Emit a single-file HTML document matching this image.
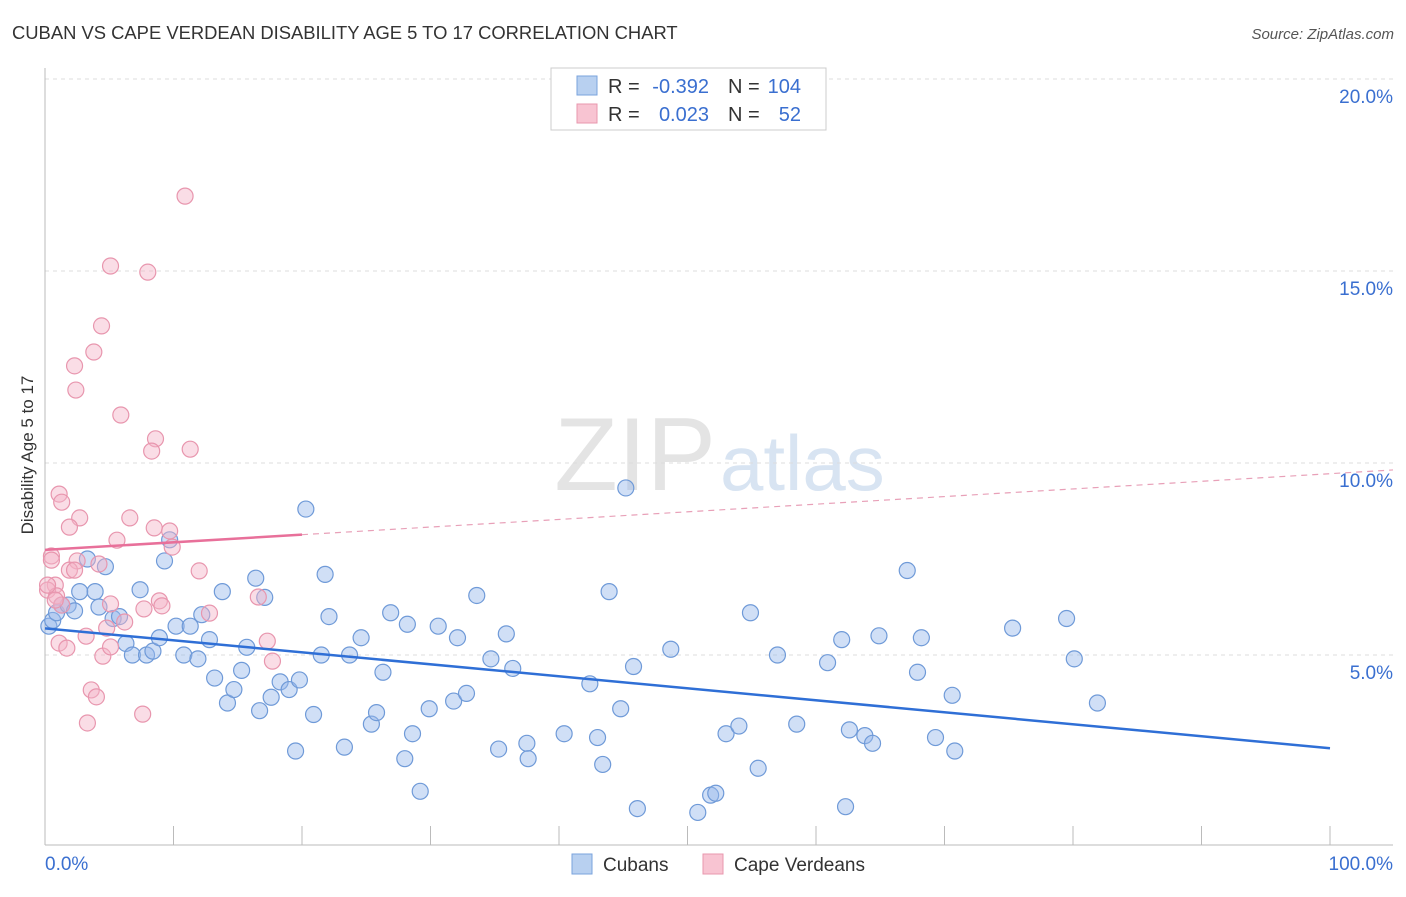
<!DOCTYPE html>
<html><head><meta charset="utf-8"><style>
body{margin:0;background:#fff;font-family:"Liberation Sans",sans-serif}
svg text{font-family:"Liberation Sans",sans-serif}
</style></head><body>
<svg id="c" width="1406" height="892">
<text x="12" y="39" font-size="18.4" fill="#333">CUBAN VS CAPE VERDEAN DISABILITY AGE 5 TO 17 CORRELATION CHART</text>
<text x="1394" y="39" font-size="15" fill="#555" font-style="italic" text-anchor="end">Source: ZipAtlas.com</text>
<text x="716" y="490" font-size="104" fill="#e4e4e4" text-anchor="end" font-family="Liberation Serif">ZIP</text>
<text x="720" y="490" font-size="78" fill="#d8e4f2">atlas</text>
<text transform="translate(33,455) rotate(-90)" font-size="17" fill="#333" text-anchor="middle">Disability Age 5 to 17</text>
<g id="grid"></g><g id="pts"></g><g id="lines"></g>
<g>
<rect x="551" y="68" width="275" height="62" fill="#fff" stroke="#ccc"/>
<rect x="577" y="76" width="20" height="19" fill="#b8d0f0" stroke="#7aa3dd"/>
<rect x="577" y="104" width="20" height="19" fill="#f8c4d2" stroke="#e897ae"/>
<text x="608" y="93" font-size="20" fill="#333">R =</text>
<text x="709" y="93" font-size="20" fill="#3a6fd0" text-anchor="end">-0.392</text>
<text x="728" y="93" font-size="20" fill="#333">N =</text>
<text x="801" y="93" font-size="20" fill="#3a6fd0" text-anchor="end">104</text>
<text x="608" y="121" font-size="20" fill="#333">R =</text>
<text x="709" y="121" font-size="20" fill="#3a6fd0" text-anchor="end">0.023</text>
<text x="728" y="121" font-size="20" fill="#333">N =</text>
<text x="801" y="121" font-size="20" fill="#3a6fd0" text-anchor="end">52</text>
</g>
<g>
<rect x="572" y="854" width="20" height="20" fill="#b8d0f0" stroke="#7aa3dd"/>
<text x="603" y="871" font-size="19" fill="#333">Cubans</text>
<rect x="703" y="854" width="20" height="20" fill="#f8c4d2" stroke="#e897ae"/>
<text x="734" y="871" font-size="19" fill="#333">Cape Verdeans</text>
</g>
</svg>
<script>
const yTicks=[5,10,15,20];
const yTickLabels=["5.0%","10.0%","15.0%","20.0%"];
const xTickLabels=["0.0%","100.0%"];
const cubansX=[0.3,0.6,0.9,1.3,1.8,2.3,2.7,3.3,3.9,4.2,4.7,5.3,5.8,6.3,6.8,7.4,7.9,8.4,8.9,9.3,9.7,10.2,10.8,11.3,11.9,12.2,12.8,13.2,13.8,14.2,14.7,15.3,15.7,16.4,16.7,17.1,17.6,18.3,19.0,19.5,19.8,20.3,20.9,21.5,21.8,22.1,23.3,23.7,24.6,25.4,25.8,26.3,26.9,28.0,28.2,28.6,29.2,29.9,30.6,31.8,32.1,32.8,33.6,34.7,35.3,35.9,36.4,37.5,37.6,40.4,42.4,43.0,43.4,43.9,44.8,45.2,45.8,46.1,48.7,50.8,51.8,52.2,53.0,54.0,54.9,55.5,57.0,58.5,60.9,62.0,62.3,62.6,63.8,64.4,64.9,67.1,67.9,68.2,69.3,70.6,70.8,75.3,79.5,80.1,81.9];
const cubansY=[5.75,5.9,6.1,6.3,6.3,6.15,6.65,7.5,6.65,6.25,7.3,5.95,6.0,5.3,5.0,6.7,5.0,5.1,5.45,7.45,8.0,5.75,5.0,5.75,4.9,6.05,5.4,4.4,6.65,3.75,4.1,4.6,5.2,7.0,3.55,6.5,3.9,4.3,4.1,2.5,4.35,8.8,3.45,5.0,7.1,6.0,2.6,5.0,5.45,3.2,3.5,4.55,6.1,2.3,5.8,2.95,1.45,3.6,5.75,3.8,5.45,4.0,6.55,4.9,2.55,5.55,4.65,2.7,2.3,2.95,4.25,2.85,2.15,6.65,3.6,9.35,4.7,1.0,5.15,0.9,1.35,1.4,2.95,3.15,6.1,2.05,5.0,3.2,4.8,5.4,1.05,3.05,2.9,2.7,5.5,7.2,4.55,5.45,2.85,3.95,2.5,5.7,5.95,4.9,3.75];
const capeX=[10.9,5.1,8.0,4.4,3.8,2.3,2.4,5.9,8.6,8.3,11.3,1.1,1.3,6.6,2.7,1.9,8.5,9.7,9.9,5.6,0.5,0.5,2.5,1.9,2.3,4.2,12.0,0.8,0.2,0.9,1.3,8.9,9.1,7.7,12.8,5.1,16.6,6.2,4.8,3.2,17.3,1.1,1.7,4.5,17.7,5.1,3.6,4.0,7.6,3.3,0.2,0.8];
const capeY=[16.95,15.13,14.97,13.57,12.89,12.53,11.9,11.25,10.63,10.31,10.36,9.19,8.98,8.57,8.57,8.33,8.31,8.23,7.81,7.99,7.58,7.47,7.45,7.21,7.21,7.37,7.19,6.82,6.69,6.54,6.30,6.41,6.28,6.2,6.09,6.33,6.51,5.86,5.7,5.49,5.36,5.31,5.18,4.97,4.84,5.21,4.09,3.91,3.46,3.23,6.82,6.43];
const X=v=>45+v*12.85, Y=v=>847-v*38.4;
const NS="http://www.w3.org/2000/svg";
function mk(t,a,p){const e=document.createElementNS(NS,t);for(const k in a)e.setAttribute(k,a[k]);p.appendChild(e);return e;}
const g=document.getElementById('grid');
yTicks.forEach((t,i)=>{
 const l=mk('line',{x1:45,x2:1393,y1:Y(t),y2:Y(t),stroke:'#ddd','stroke-dasharray':'4,4'},g);
 
 
 const tx=mk('text',{x:1393,y:Y(t)+24,'font-size':19,fill:'#3a6fd0','text-anchor':'end'},g);
 tx.textContent=yTickLabels[i];
 
 
});
const ax=mk('line',{x1:45,x2:1393,y1:845,y2:845,stroke:'#bbb'},g);


const ay=mk('line',{x1:45,x2:45,y1:68,y2:845,stroke:'#bbb'},g);


for(let i=1;i<=10;i++){const t=mk('line',{x1:X(i*10),x2:X(i*10),y1:826,y2:845,stroke:'#bbb'},g);
 
 }
[[0,'start',45],[1,'end',1393]].forEach(([i,a,x])=>{const t=mk('text',{x:x,y:870,'font-size':19,fill:'#3a6fd0','text-anchor':a},g);t.textContent=xTickLabels[i];
 
 });
const p=document.getElementById('pts');
cubansX.forEach((v,i)=>{const c=mk('circle',{cx:X(v),cy:Y(cubansY[i]),r:8,fill:'rgba(150,185,235,0.45)',stroke:'#6f9ad8','stroke-width':1.2},p);
 
 });
capeX.forEach((v,i)=>{const c=mk('circle',{cx:X(v),cy:Y(capeY[i]),r:8,fill:'rgba(245,180,200,0.45)',stroke:'#e896ae','stroke-width':1.2},p);
 
 });
const L=document.getElementById('lines');
function fit(xs,ys){const n=xs.length,mx=xs.reduce((a,b)=>a+b)/n,my=ys.reduce((a,b)=>a+b)/n;let sxy=0,sxx=0;xs.forEach((x,i)=>{sxy+=(x-mx)*(ys[i]-my);sxx+=(x-mx)**2});const b=sxy/sxx;return [my-b*mx,b];}
const [ba,bb]=fit(cubansX,cubansY);
const bl=mk('line',{x1:X(0),y1:Y(ba),x2:X(100),y2:Y(ba+bb*100),stroke:'#2f6fd6','stroke-width':2.5},L);


const [pa,pb]=fit(capeX,capeY);
const pl=mk('line',{x1:X(0),y1:Y(pa),x2:X(20),y2:Y(pa+pb*20),stroke:'#e8709a','stroke-width':2.5},L);


const pd=mk('line',{x1:X(20),y1:Y(pa+pb*20),x2:1393,y2:Y(pa+pb*104.9),stroke:'#e8a0b8','stroke-width':1.2,'stroke-dasharray':'6,5'},L);


</script>
</body></html>
